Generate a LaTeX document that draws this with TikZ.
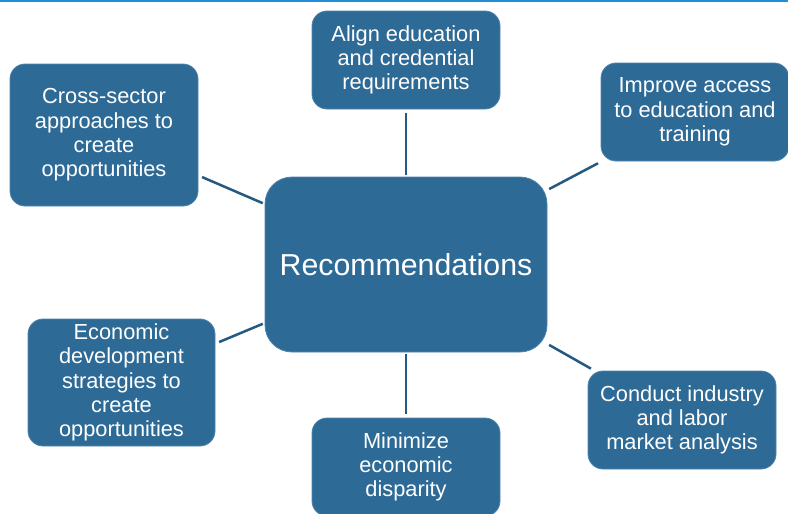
\documentclass[tikz,border=0pt]{standalone}
\usepackage{fontspec}
\setmainfont{Liberation Sans}
\definecolor{boxfill}{HTML}{2E6A96}
\definecolor{boxedge}{HTML}{4E84AE}
\definecolor{linkcol}{HTML}{245A82}
\definecolor{topline}{HTML}{1E8FD6}
\tikzset{
  leaf/.style={draw=boxedge, line width=0.8pt, fill=boxfill, text=white,
    rounded corners=15pt, align=center, inner sep=0pt,
    font=\fontsize{21.8}{24.3}\selectfont},
  hub/.style={draw=boxedge, line width=0.8pt, fill=boxfill, text=white,
    rounded corners=27pt, align=center, inner sep=0pt,
    minimum width=282pt, minimum height=175pt,
    font=\fontsize{30.3}{34}\selectfont},
  link/.style={draw=linkcol, line width=2.5pt, shorten <=2pt, shorten >=4pt}
}
\begin{document}
\begin{tikzpicture}[x=1pt,y=-1pt]
\useasboundingbox (0,0) rectangle (788,514);
\clip (0,0) rectangle (788,514);
\fill[white] (0,0) rectangle (788,514);
\draw[topline, line width=1.6pt] (0,0.8) -- (788,0.8);

\node[hub] (rec) at (406,264.5) {Recommendations};
\node[leaf, minimum width=188pt, minimum height=98pt] (align) at (406,60)
  {Align education\\and credential\\requirements};
\node[leaf, minimum width=188pt, minimum height=98pt] (improve) at (695,112)
  {Improve access\\to education and\\training};
\node[leaf, minimum width=188pt, minimum height=142pt] (cross) at (104,135)
  {Cross-sector\\approaches to\\create\\opportunities};
\node[leaf, minimum width=187pt, minimum height=127pt] (econ) at (121.5,382.5)
  {Economic\\development\\strategies to\\create\\opportunities};
\node[leaf, minimum width=188pt, minimum height=98pt] (minimize) at (406,467)
  {Minimize\\economic\\disparity};
\node[leaf, minimum width=188pt, minimum height=98pt] (conduct) at (682,420)
  {Conduct industry\\and labor\\market analysis};

\draw[link] (rec) -- (align);
\draw[link] (rec) -- (improve);
\draw[link] (rec) -- (cross);
\draw[link] (rec) -- (econ);
\draw[link] (rec) -- (minimize);
\draw[link] (rec) -- (conduct);
\end{tikzpicture}
\end{document}
